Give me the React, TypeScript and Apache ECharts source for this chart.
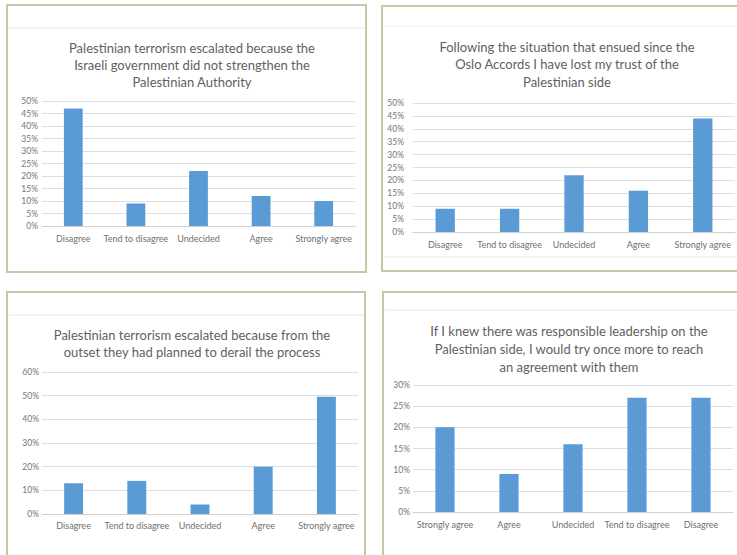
import React, { useEffect, useRef } from "react";
import * as echarts from "echarts";

const categories = ["Disagree", "Tend to disagree", "Undecided", "Agree", "Strongly agree"];
const categoriesReversed = ["Strongly agree", "Agree", "Undecided", "Tend to disagree", "Disagree"];

const values1 = [47, 9, 22, 12, 10];
const values2 = [9, 9, 22, 16, 44];
const values3 = [13, 14, 4, 20, 49.5];
const values4 = [20, 9, 16, 27, 27];

const title1 = "Palestinian terrorism escalated because the\nIsraeli government did not strengthen the\nPalestinian Authority";
const title2 = "Following the situation that ensued since the\nOslo Accords I have lost my trust of the\nPalestinian side";
const title3 = "Palestinian terrorism escalated because from the\noutset they had planned to derail the process";
const title4 = "If I knew there was responsible leadership on the\nPalestinian side, I would try once more to reach\nan agreement with them";

const yMax = [50, 50, 60, 30];
const yStep = [5, 5, 10, 5];

const FONT = "Lato, 'Open Sans', sans-serif";
const BAR = "#5B9BD5";
const BORDER = "#cbc5a3";
const GRID = "#dedede";

export default function App() {
  const ref = useRef<HTMLDivElement>(null);
  useEffect(() => {
    if (!ref.current) return;
    const chart = echarts.init(ref.current, null, { renderer: "svg" });
    const panels = [
      { cats: categories, vals: values1, grid: { left: 42, top: 101, width: 313, height: 125 }, title: title1, tx: 187, ty: 34, lh: 17, lm: 4, xm: 8 },
      { cats: categories, vals: values2, grid: { left: 413, top: 103, width: 322, height: 129 }, title: title2, tx: 562, ty: 33, lh: 17.5, lm: 9, xm: 8 },
      { cats: categories, vals: values3, grid: { left: 42, top: 372, width: 316, height: 142 }, title: title3, tx: 187, ty: 322, lh: 16.5, lm: 3, xm: 7 },
      { cats: categoriesReversed, vals: values4, grid: { left: 413, top: 385, width: 320, height: 127 }, title: title4, tx: 564, ty: 317, lh: 18, lm: 3, xm: 8 },
    ];
    const option: any = {
      animation: false,
      backgroundColor: "#ffffff",
      title: panels.map((p) => ({
        text: p.title,
        left: p.tx,
        top: p.ty,
        textAlign: "center",
        textStyle: { fontFamily: FONT, fontSize: 13, fontWeight: "normal", color: "#5f5f5f", lineHeight: p.lh },
      })),
      grid: panels.map((p) => ({ ...p.grid, containLabel: false })),
      xAxis: panels.map((p, i) => ({
        type: "category",
        gridIndex: i,
        data: p.cats,
        axisTick: { show: false },
        axisLine: { lineStyle: { color: "#d0d0d0" } },
        axisLabel: { fontFamily: FONT, fontSize: 9, color: "#707070", margin: p.xm, interval: 0 },
      })),
      yAxis: panels.map((p, i) => ({
        type: "value",
        gridIndex: i,
        min: 0,
        max: yMax[i],
        interval: yStep[i],
        axisLine: { show: false },
        axisTick: { show: false },
        splitLine: { lineStyle: { color: GRID } },
        axisLabel: { fontFamily: FONT, fontSize: 8.5, color: "#757575", margin: p.lm, formatter: "{value}%" },
      })),
      series: panels.map((p, i) => ({
        type: "bar",
        xAxisIndex: i,
        yAxisIndex: i,
        data: p.vals,
        barWidth: "30%",
        itemStyle: { color: BAR },
      })),
      graphic: [
        { type: "rect", shape: { x: 7, y: 5, width: 359, height: 267 }, style: { fill: "none", stroke: BORDER, lineWidth: 2 }, z: 10 },
        { type: "rect", shape: { x: 382, y: 6, width: 370, height: 265 }, style: { fill: "none", stroke: BORDER, lineWidth: 2 }, z: 10 },
        { type: "rect", shape: { x: 7, y: 292, width: 358, height: 280 }, style: { fill: "none", stroke: BORDER, lineWidth: 2 }, z: 10 },
        { type: "rect", shape: { x: 383, y: 292, width: 370, height: 280 }, style: { fill: "none", stroke: BORDER, lineWidth: 2 }, z: 10 },
        { type: "line", shape: { x1: 9, y1: 28, x2: 364, y2: 28 }, style: { stroke: "#e6e6e6", lineWidth: 1 } },
        { type: "line", shape: { x1: 384, y1: 26, x2: 737, y2: 26 }, style: { stroke: "#eeeeee", lineWidth: 1 } },
        { type: "line", shape: { x1: 384, y1: 257, x2: 737, y2: 257 }, style: { stroke: "#e6e6e6", lineWidth: 1 } },
        { type: "line", shape: { x1: 9, y1: 315, x2: 363, y2: 315 }, style: { stroke: "#e6e6e6", lineWidth: 1 } },
        { type: "line", shape: { x1: 385, y1: 310, x2: 737, y2: 310 }, style: { stroke: "#e6e6e6", lineWidth: 1 } },
      ],
    };
    chart.setOption(option);
    return () => chart.dispose();
  }, []);
  return (
    <div
      ref={ref}
      style={{ position: "fixed", left: 0, top: 0, width: 737, height: 555, background: "#fff" }}
    />
  );
}
